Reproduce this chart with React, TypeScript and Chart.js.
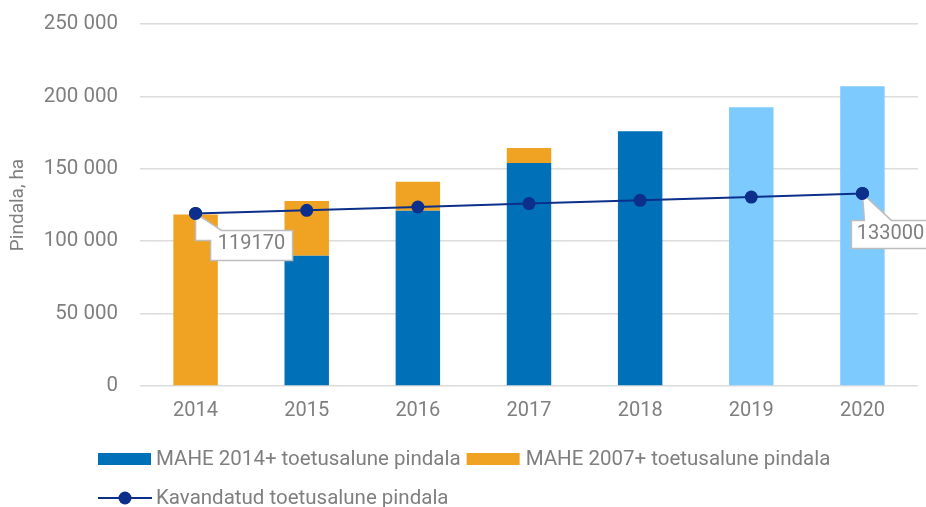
import React, { useEffect, useRef } from 'react';
import { Chart, registerables } from 'chart.js';

Chart.register(...registerables);

const YEARS = ['2014', '2015', '2016', '2017', '2018', '2019', '2020'];
const MAHE_2014 = [null, 90000, 121000, 154000, 176000, 192500, 207000];
const MAHE_2007 = [118500, 37800, 20000, 10400, null, null, null];
const PLANNED = [119170, 121300, 123600, 126000, 128200, 130500, 133000];
const Y_TICKS = [0, 50000, 100000, 150000, 200000, 250000];
const CALLOUT_INDEX = [0, 6];
const LEGEND_LABELS = [
  'MAHE 2014+ toetusalune pindala',
  'MAHE 2007+ toetusalune pindala',
  'Kavandatud toetusalune pindala',
];
const Y_TITLE = 'Pindala, ha';

const BLUE = '#0070b8';
const LIGHT_BLUE = '#7dcbfe';
const ORANGE = '#f0a322';
const NAVY = '#0b2f8a';
const TEXT = '#7f7f7f';
const GRID = '#dcdcdc';
const FONT = 'Roboto, "Noto Sans", sans-serif';

const fmt = (v: number) => String(v).replace(/\B(?=(\d{3})+(?!\d))/g, ' ');

// callout shapes, as offsets from the labelled point
const CALLOUT_SHAPES = [
  { poly: [[0, 0], [26, 17], [97, 17], [97, 47], [15, 47], [15, 27], [0, 27]], tx: 56, ty: 31 },
  { poly: [[0, 0], [29, 27], [80, 27], [80, 55], [-11, 55], [-11, 27], [2, 27]], tx: 28, ty: 41 },
];

const calloutPlugin = {
  id: 'callouts',
  afterDatasetsDraw(chart: any) {
    const ctx = chart.ctx;
    const meta = chart.getDatasetMeta(2);
    CALLOUT_INDEX.forEach((idx, k) => {
      const el = meta.data[idx];
      if (!el) return;
      const { x, y } = el;
      const shape = CALLOUT_SHAPES[k];
      ctx.save();
      ctx.beginPath();
      shape.poly.forEach(([dx, dy], i) => {
        if (i === 0) ctx.moveTo(x + dx, y + dy);
        else ctx.lineTo(x + dx, y + dy);
      });
      ctx.closePath();
      ctx.fillStyle = '#ffffff';
      ctx.fill();
      ctx.strokeStyle = '#bdbdbd';
      ctx.lineWidth = 1.5;
      ctx.stroke();
      // redraw point on top
      ctx.beginPath();
      ctx.arc(x, y, 6.5, 0, Math.PI * 2);
      ctx.fillStyle = NAVY;
      ctx.fill();
      ctx.font = `20px ${FONT}`;
      ctx.fillStyle = TEXT;
      ctx.textAlign = 'center';
      ctx.textBaseline = 'middle';
      ctx.fillText(String(PLANNED[idx]), x + shape.tx, y + shape.ty);
      ctx.restore();
    });
  },
};

const legendPlugin = {
  id: 'customLegend',
  afterDraw(chart: any) {
    const ctx = chart.ctx;
    ctx.save();
    ctx.font = `20.5px ${FONT}`;
    ctx.fillStyle = TEXT;
    ctx.textAlign = 'left';
    ctx.textBaseline = 'middle';
    // row 1
    const row1 = 459;
    ctx.fillStyle = BLUE;
    ctx.fillRect(98, row1 - 6, 53, 12);
    ctx.fillStyle = TEXT;
    ctx.fillText(LEGEND_LABELS[0], 156, row1 + 1);
    const w1 = ctx.measureText(LEGEND_LABELS[0]).width;
    const x2 = 156 + w1 + 6;
    ctx.fillStyle = ORANGE;
    ctx.fillRect(x2, row1 - 6, 53, 12);
    ctx.fillStyle = TEXT;
    ctx.fillText(LEGEND_LABELS[1], x2 + 59, row1 + 1);
    // row 2
    const row2 = 498;
    ctx.strokeStyle = NAVY;
    ctx.lineWidth = 2;
    ctx.beginPath();
    ctx.moveTo(98, row2);
    ctx.lineTo(152, row2);
    ctx.stroke();
    ctx.beginPath();
    ctx.arc(125, row2, 6.5, 0, Math.PI * 2);
    ctx.fillStyle = NAVY;
    ctx.fill();
    ctx.fillStyle = TEXT;
    ctx.fillText(LEGEND_LABELS[2], 156, row2 + 1);
    ctx.restore();
  },
};

export default function App() {
  const ref = useRef<HTMLCanvasElement | null>(null);

  useEffect(() => {
    if (!ref.current) return;
    const chart = new Chart(ref.current, {
      type: 'bar',
      data: {
        labels: YEARS,
        datasets: [
          {
            type: 'bar',
            label: LEGEND_LABELS[0],
            data: MAHE_2014,
            backgroundColor: YEARS.map((y) => (Number(y) >= 2019 ? LIGHT_BLUE : BLUE)),
            stack: 'bars',
            order: 1,
            barPercentage: 0.8,
            categoryPercentage: 0.5,
          },
          {
            type: 'bar',
            label: LEGEND_LABELS[1],
            data: MAHE_2007,
            backgroundColor: ORANGE,
            stack: 'bars',
            order: 1,
            barPercentage: 0.8,
            categoryPercentage: 0.5,
          },
          {
            type: 'line',
            label: LEGEND_LABELS[2],
            data: PLANNED,
            borderColor: NAVY,
            backgroundColor: NAVY,
            borderWidth: 2,
            pointRadius: 6.5,
            pointBackgroundColor: NAVY,
            pointBorderWidth: 0,
            stack: 'line',
            order: 0,
            tension: 0,
          },
        ],
      },
      options: {
        responsive: false,
        animation: false,
        layout: { padding: { left: 0, right: 8, top: 24, bottom: 81 } },
        plugins: {
          legend: { display: false },
          tooltip: { enabled: false },
        },
        scales: {
          x: {
            stacked: true,
            grid: { display: false, drawTicks: false },
            border: { display: false },
            ticks: { color: TEXT, font: { family: FONT, size: 20 }, padding: 13 },
            afterFit: (s: any) => {
              s.height = 40;
            },
          },
          y: {
            stacked: true,
            min: 0,
            max: 250000,
            afterBuildTicks: (s: any) => {
              s.ticks = Y_TICKS.map((v) => ({ value: v }));
            },
            grid: { color: GRID, lineWidth: 1.5, drawTicks: false },
            border: { display: false },
            ticks: {
              color: TEXT,
              font: { family: FONT, size: 20.5 },
              padding: 22,
              callback: (v: any) => fmt(Number(v)),
            },
            title: {
              display: true,
              text: Y_TITLE,
              color: TEXT,
              font: { family: FONT, size: 19 },
              padding: { top: 7, bottom: 0 },
            },
            afterFit: (s: any) => {
              s.width = 140;
              s.paddingTop = 0;
              s.paddingBottom = 0;
            },
          },
        },
      },
      plugins: [calloutPlugin, legendPlugin],
    } as any);
    return () => chart.destroy();
  }, []);

  return (
    <div style={{ position: 'fixed', left: 0, top: 0, width: 926, height: 507, background: '#fff' }}>
      <canvas ref={ref} width={926} height={507} style={{ display: 'block' }} />
    </div>
  );
}
